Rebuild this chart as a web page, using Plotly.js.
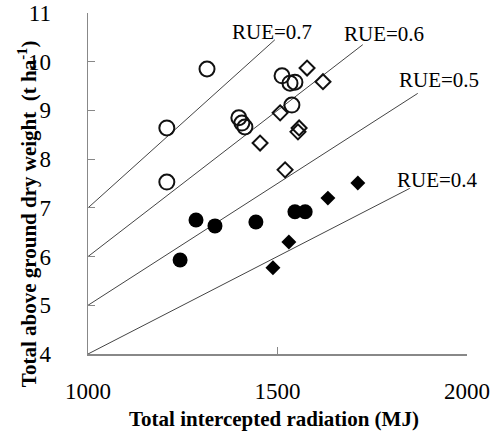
<!DOCTYPE html>
<html>
<head>
<meta charset="utf-8">
<script src="https://cdn.plot.ly/plotly-3.0.1.min.js"></script>
<style>html,body{margin:0;padding:0;background:#fff;}#chart{width:490px;height:432px;}</style>
</head>
<body>
<div id="chart"></div>
<script>
// Open circles
var openCircleX = [1314, 1208, 1208, 1398, 1406, 1414, 1512, 1533, 1546, 1538];
var openCircleY = [9.85, 8.64, 7.53, 8.85, 8.74, 8.66, 9.71, 9.56, 9.58, 9.11];
// Open diamonds
var openDiamondX = [1454, 1578, 1620, 1507, 1557, 1554, 1520];
var openDiamondY = [8.33, 9.87, 9.59, 8.95, 8.64, 8.56, 7.78];
// Filled circles
var filledCircleX = [1285, 1335, 1443, 1243, 1546, 1573];
var filledCircleY = [6.75, 6.63, 6.71, 5.93, 6.92, 6.92];
// Filled diamonds
var filledDiamondX = [1633, 1530, 1488, 1712];
var filledDiamondY = [7.20, 6.30, 5.77, 7.51];
// RUE reference lines
var rueLabels = ["RUE=0.7", "RUE=0.6", "RUE=0.5", "RUE=0.4"];
var rueLineX = [[1000, 1493], [1000, 1725], [1000, 1870], [1000, 1849]];
var rueLineY = [[7, 10.45], [6, 10.35], [5, 9.35], [4, 7.40]];
var rueLabelX = [1485, 1781, 1926, 1921];
var rueLabelY = [10.61, 10.56, 9.63, 7.57];

var SERIF = "Liberation Serif, Times New Roman, serif";
var traces = [];
for (var i = 0; i < rueLabels.length; i++) {
  traces.push({x: rueLineX[i], y: rueLineY[i], type: 'scatter', mode: 'lines',
    line: {color: '#444', width: 1}, hoverinfo: 'skip', showlegend: false});
}
traces.push({x: openCircleX, y: openCircleY, type: 'scatter', mode: 'markers', showlegend: false,
  marker: {symbol: 'circle-open', size: 15, color: '#111', line: {width: 2, color: '#111'}}});
traces.push({x: openDiamondX, y: openDiamondY, type: 'scatter', mode: 'markers', showlegend: false,
  marker: {symbol: 'diamond-open', size: 11.5, color: '#111', line: {width: 2, color: '#111'}}});
traces.push({x: filledCircleX, y: filledCircleY, type: 'scatter', mode: 'markers', showlegend: false,
  marker: {symbol: 'circle', size: 15, color: '#000'}});
traces.push({x: filledDiamondX, y: filledDiamondY, type: 'scatter', mode: 'markers', showlegend: false,
  marker: {symbol: 'diamond', size: 11.5, color: '#000'}});

var annotations = [];
for (var j = 0; j < rueLabels.length; j++) {
  annotations.push({x: rueLabelX[j], y: rueLabelY[j], xref: 'x', yref: 'y', text: rueLabels[j],
    showarrow: false, xanchor: 'center', yanchor: 'middle',
    font: {family: SERIF, size: 21, color: '#000'}});
}
annotations.push({x: -0.161, y: 0.413, xref: 'paper', yref: 'paper', textangle: -90,
  xanchor: 'center', yanchor: 'middle',
  text: '<b>Total above ground dry weight  (t ha<sup>-1</sup>)</b>', showarrow: false,
  font: {family: SERIF, size: 21, color: '#000'}});
annotations.push({x: 0.49, y: -0.19, xref: 'paper', yref: 'paper',
  xanchor: 'center', yanchor: 'middle',
  text: '<b>Total intercepted radiation (MJ)</b>', showarrow: false,
  font: {family: SERIF, size: 21, color: '#000'}});

var layout = {
  width: 490, height: 432,
  margin: {l: 88, r: 23, t: 13, b: 78},
  paper_bgcolor: '#fff', plot_bgcolor: '#fff',
  showlegend: false,
  xaxis: {range: [1000, 2000], dtick: 500, tick0: 1000, showgrid: false, zeroline: false,
    showline: true, linecolor: '#888', linewidth: 1.5, ticks: 'inside', ticklen: 7, tickcolor: '#888',
    tickfont: {family: SERIF, size: 23, color: '#000'}, ticklabelstandoff: 16},
  yaxis: {range: [4, 11], dtick: 1, showgrid: false, zeroline: false,
    showline: true, linecolor: '#888', linewidth: 1.5, ticks: 'inside', ticklen: 7, tickcolor: '#888',
    tickfont: {family: SERIF, size: 23, color: '#000'}, ticklabelstandoff: 31},
  annotations: annotations
};
Plotly.newPlot('chart', traces, layout, {displayModeBar: false, staticPlot: true});
</script>
</body>
</html>
